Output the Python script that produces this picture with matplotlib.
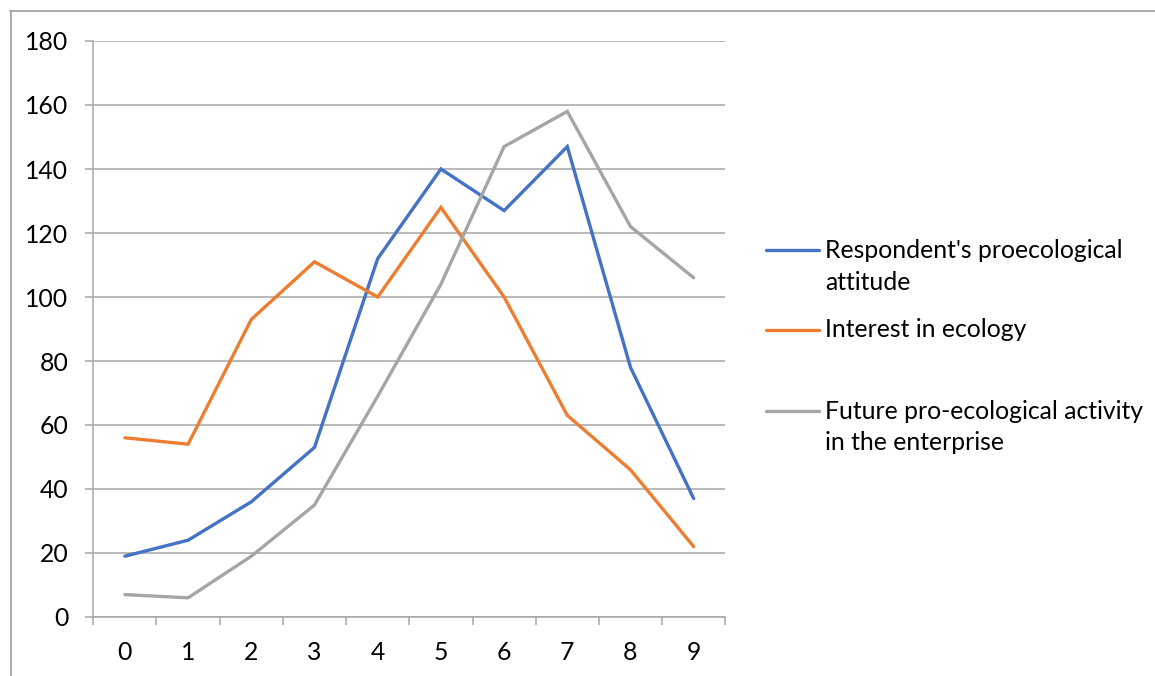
import matplotlib.pyplot as plt
from matplotlib.lines import Line2D

plt.rcParams['font.family'] = ['Lato', 'DejaVu Sans']

# data
categories = [0, 1, 2, 3, 4, 5, 6, 7, 8, 9]
attitude = [19, 24, 36, 53, 112, 140, 127, 147, 78, 37]
interest = [56, 54, 93, 111, 100, 128, 100, 63, 46, 22]
future = [7, 6, 19, 35, 69, 104, 147, 158, 122, 106]
series_names = ["Respondent's proecological\nattitude",
                "Interest in ecology",
                "Future pro-ecological activity\nin the enterprise"]
colors = ['#4472C4', '#ED7D31', '#A5A5A5']
grid_col = '#A6A6A6'
fs = 17.8

dpi = 100
fig = plt.figure(figsize=(11.55, 6.76), dpi=dpi)
W, H = 1155, 676
ax = fig.add_axes([93.3 / W, 1 - 617 / H, (725.3 - 93.3) / W, (617 - 41) / H])

x = list(range(len(categories)))
for vals, c in zip([attitude, interest, future], colors):
    ax.plot(x, vals, color=c, lw=2.4, solid_capstyle='round', solid_joinstyle='miter')

ax.set_xlim(-0.5, len(categories) - 0.5)
ax.set_ylim(0, 180)
ax.set_yticks(range(0, 181, 20))
ax.yaxis.grid(True, color=grid_col, lw=1.1)
ax.set_axisbelow(True)

# category ticks between the labels, labels at the centres
ax.set_xticks([i - 0.5 for i in range(len(categories) + 1)])
ax.set_xticklabels([])
ax.set_xticks(x, minor=True)
ax.set_xticklabels([str(c) for c in categories], minor=True)
ax.tick_params(axis='x', which='major', length=6, width=1.1, color=grid_col, direction='out')
ax.tick_params(axis='x', which='minor', length=0, pad=17, labelsize=fs)
ax.tick_params(axis='y', length=6, width=1.1, color=grid_col, pad=12, labelsize=fs)

for s in ['top', 'right']:
    ax.spines[s].set_visible(False)
for s in ['left', 'bottom']:
    ax.spines[s].set_color(grid_col)
    ax.spines[s].set_linewidth(1.1)

# legend drawn by hand so the marker sits on the first text line
leg_y = [250, 330, 411]
for name, c, yy in zip(series_names, colors, leg_y):
    fy = 1 - yy / H
    fig.add_artist(Line2D([766 / W, 819 / W], [fy, fy], color=c, lw=2.4,
                          solid_capstyle='round'))
    for i, part in enumerate(name.split('\n')):
        fig.text(825 / W, 1 - (yy + 32 * i) / H, part, fontsize=fs,
                 va='center', ha='left')

# outer chart frame (only top and left visible in the crop)
fig.add_artist(Line2D([10 / W, 1.0], [1 - 10.5 / H, 1 - 10.5 / H], color='#A0A0A0', lw=1.2))
fig.add_artist(Line2D([10.5 / W, 10.5 / W], [0, 1 - 10.5 / H], color='#A0A0A0', lw=1.2))

fig.savefig('out.png', dpi=dpi)
